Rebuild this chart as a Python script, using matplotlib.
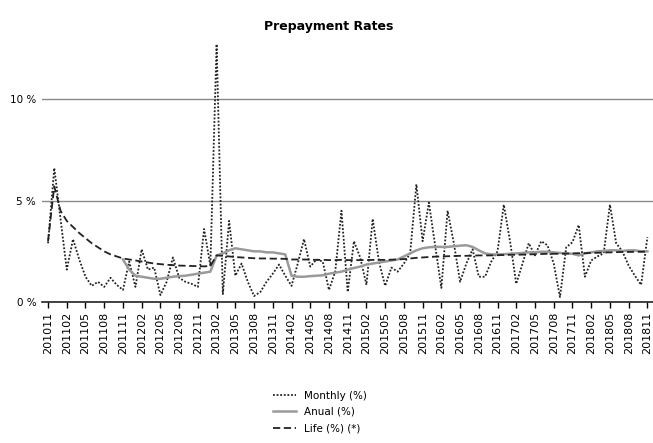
import numpy as np
import pandas as pd
from matplotlib import pyplot as plt

months = pd.period_range('2010-11', '2018-11', freq='M')
labels = [p.strftime('%Y%m') for p in months]

# monthly prepayment rate (%), 201011 .. 201811
monthly = [2.9, 6.6, 4.1, 1.6, 3.1, 2.1, 1.25, 0.8, 1.0, 0.75, 1.2, 0.85,
           0.6, 2.0, 0.75, 2.6, 1.6, 1.7, 0.35, 1.0, 2.2, 1.2, 1.0, 0.9,
           0.75, 3.6, 1.8, 12.7, 0.4, 4.0, 1.3, 1.9, 1.0, 0.3, 0.5, 1.0,
           1.4, 1.85, 1.3, 0.8, 1.9, 3.1, 1.75, 2.1, 2.0, 0.6, 1.5, 4.5,
           0.5, 3.0, 2.2, 0.85, 4.1, 2.0, 0.8, 1.7, 1.5, 1.9, 2.4, 5.8,
           3.0, 4.9, 2.8, 0.7, 4.5, 2.9, 1.0, 1.9, 2.6, 1.25, 1.25, 2.0,
           2.5, 4.8, 3.0, 0.9, 1.9, 2.9, 2.3, 3.0, 2.8, 1.9, 0.25, 2.7,
           2.95, 3.8, 1.25, 2.05, 2.25, 2.4, 4.8, 2.9, 2.5, 1.8, 1.3, 0.85,
           3.2]

# 12 month rate, starts after one year of history
anual = [None] * 12 + [
    2.1, 1.6, 1.3, 1.25, 1.2, 1.15, 1.15, 1.2, 1.25, 1.28, 1.3, 1.35,
    1.4, 1.45, 1.5, 2.3, 2.4, 2.55, 2.65, 2.6, 2.55, 2.5, 2.5, 2.45,
    2.45, 2.4, 2.35, 1.3, 1.25, 1.25, 1.28, 1.3, 1.32, 1.4, 1.45, 1.5,
    1.6, 1.68, 1.75, 1.85, 1.9, 1.95, 2.0, 2.05, 2.1, 2.25, 2.4, 2.55,
    2.65, 2.7, 2.72, 2.72, 2.72, 2.75, 2.78, 2.8, 2.72, 2.55, 2.4, 2.35,
    2.35, 2.36, 2.38, 2.4, 2.42, 2.45, 2.45, 2.48, 2.48, 2.45, 2.42, 2.4,
    2.38, 2.3, 2.4, 2.45, 2.5, 2.52, 2.55, 2.55, 2.52, 2.55, 2.55, 2.5,
    2.5]

# life (since origination) rate
life = [3.0, 5.7, 4.5, 4.0, 3.7, 3.4, 3.15, 2.9, 2.7, 2.5, 2.35, 2.25,
        2.15, 2.1, 2.05, 2.0, 1.95, 1.9, 1.87, 1.84, 1.82, 1.8, 1.79, 1.78,
        1.77, 1.76, 1.78, 2.3, 2.28, 2.25, 2.22, 2.2, 2.18, 2.16, 2.15, 2.15,
        2.14, 2.14, 2.13, 2.1, 2.1, 2.1, 2.09, 2.08, 2.08, 2.07, 2.07, 2.08,
        2.07, 2.07, 2.07, 2.07, 2.08, 2.08, 2.08, 2.09, 2.1, 2.12, 2.15, 2.18,
        2.2, 2.22, 2.24, 2.25, 2.26, 2.27, 2.28, 2.28, 2.29, 2.3, 2.3, 2.3,
        2.31, 2.32, 2.33, 2.33, 2.34, 2.35, 2.36, 2.37, 2.38, 2.38, 2.38, 2.39,
        2.4, 2.41, 2.41, 2.42, 2.43, 2.44, 2.45, 2.46, 2.47, 2.47, 2.48, 2.48,
        2.49]

x = np.arange(len(months))
anual_arr = np.array([np.nan if v is None else v for v in anual])

fig = plt.figure(figsize=(6.53, 4.43), dpi=100)
ax = fig.add_axes([0.064, 0.318, 0.936, 0.596])

ax.plot(x, monthly, color='#222222', lw=1.3, ls=(0, (1, 1)), label='Monthly (%)')
ax.plot(x, anual_arr, color='#9a9a9a', lw=1.8, label='Anual (%)')
ax.plot(x, life, color='#222222', lw=1.3, ls=(0, (4, 2)), label='Life (%) (*)')

ax.set_xlim(-1, 96.9)
ax.set_ylim(0, 13)
ax.set_yticks([0, 5, 10])
ax.set_yticklabels(['0 %', '5 %', '10 %'], fontsize=7.5)
ax.yaxis.grid(True, color='#8a8a8a', lw=1)
ax.tick_params(axis='y', length=0, pad=4)
ax.set_xticks(x[::3])
ax.set_xticklabels(labels[::3], rotation=90, fontsize=8)
ax.tick_params(axis='x', length=4, width=1, direction='out', pad=3)
for s in ['top', 'right', 'left']:
    ax.spines[s].set_visible(False)
ax.spines['bottom'].set_color('#222222')
ax.spines['bottom'].set_linewidth(1.2)

ax.set_title('Prepayment Rates', fontsize=9, fontweight='bold', x=0.47, pad=6)

fig.legend(loc='center', bbox_to_anchor=(0.49, 0.07), frameon=False,
           fontsize=7.5, handlelength=2.2, labelspacing=0.6)

plt.savefig('out.png', dpi=100)
